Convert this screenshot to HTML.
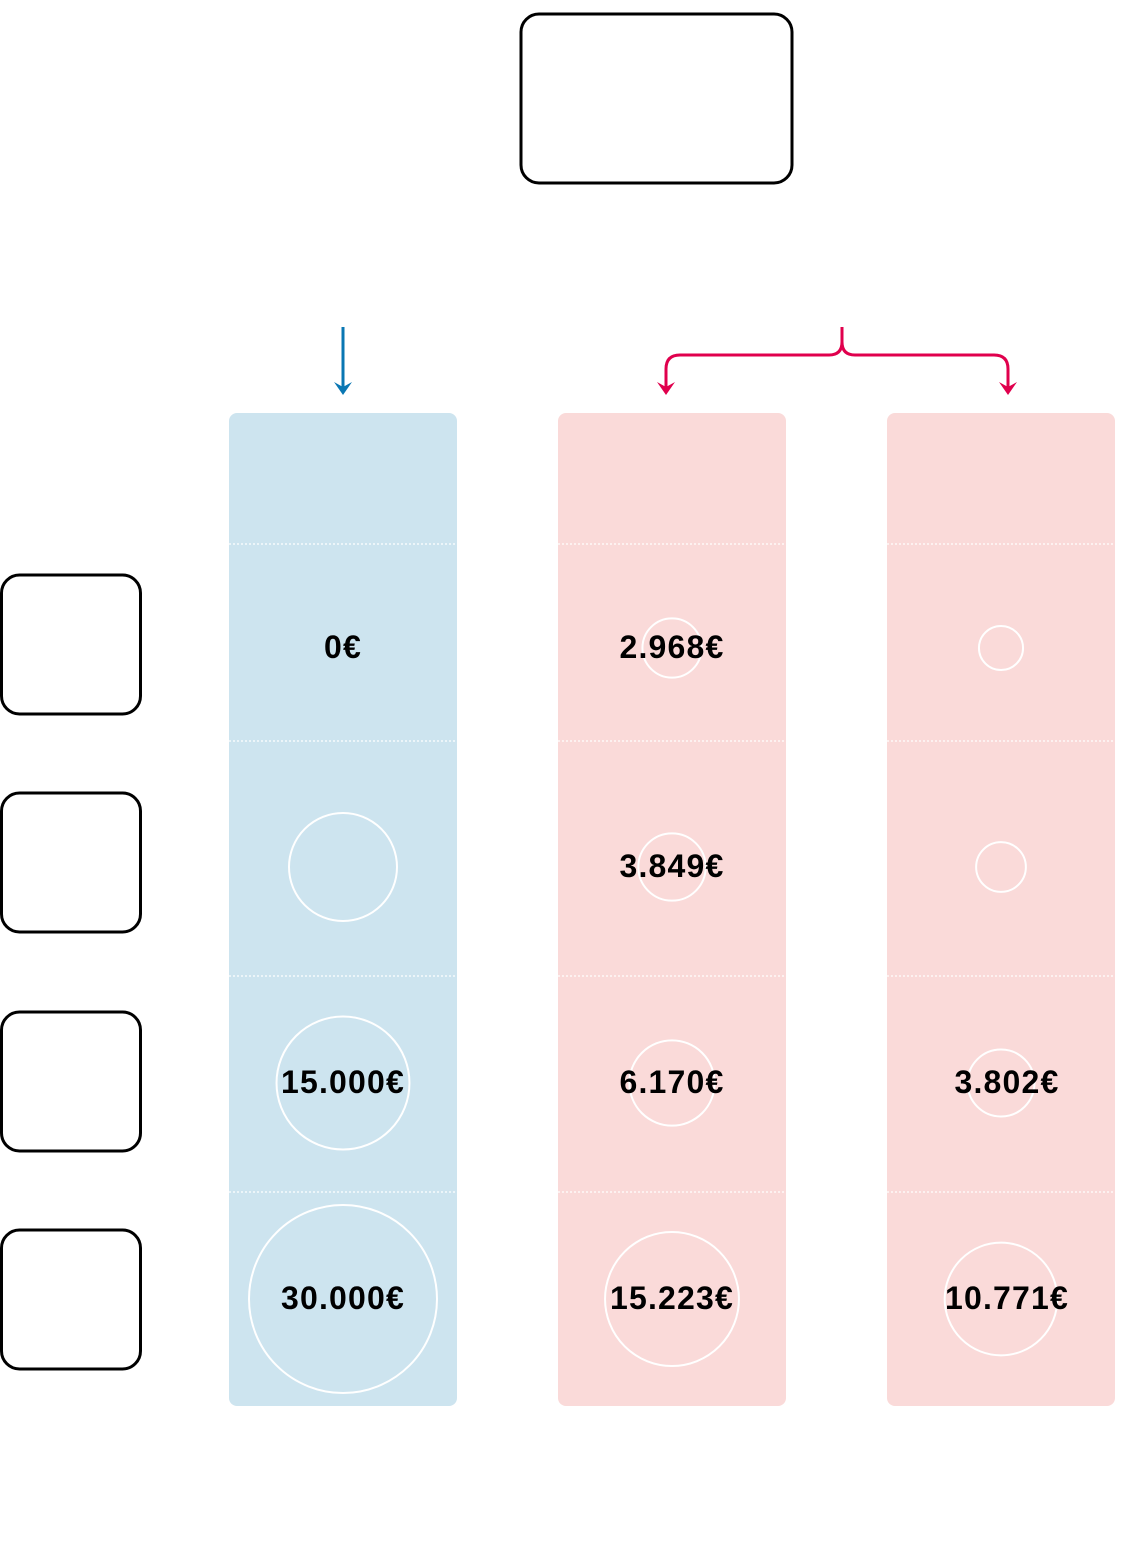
<!DOCTYPE html>
<html><head><meta charset="utf-8"><style>
body{margin:0;background:#fff;}
svg{display:block;font-family:"Liberation Sans",sans-serif;}
</style></head><body>
<svg id="chart" width="1132" height="1542">
<rect x="521" y="14" width="271" height="169" rx="18" fill="#fff" stroke="#000" stroke-width="3"/>
<g>
<line x1="343" y1="327" x2="343" y2="388" stroke="#0a77b3" stroke-width="3"/>
<path d="M334,382 L343,395 L352,382 L343,387 Z" fill="#0a77b3"/>
</g>
<g fill="none" stroke="#e0004d" stroke-width="3">
<path d="M842,327 V342 Q842,355 829,355 H680 Q666,355 666,369 V388"/>
<path d="M842,342 Q842,355 855,355 H994 Q1008,355 1008,369 V388"/>
</g>
<path d="M657,382 L666,395 L675,382 L666,387 Z M999,382 L1008,395 L1017,382 L1008,387 Z" fill="#e0004d"/>
<g id="cols"></g>
<g id="rowboxes"></g>
</svg>
<script>
const columns = ["blue", "red1", "red2"];
const rowNames = ["row-1", "row-2", "row-3", "row-4"];
const blueValues = [0, 9900, 15000, 30000];
const red1Values = [2968, 3849, 6170, 15223];
const red2Values = [1650, 2100, 3802, 10771];
const blueLabels = ["0€", "", "15.000€", "30.000€"];
const red1Labels = ["2.968€", "3.849€", "6.170€", "15.223€"];
const red2Labels = ["", "", "3.802€", "10.771€"];

const NS = "http://www.w3.org/2000/svg";
const colX = [229, 558, 887], colW = 228, colTop = 413, colBottom = 1406;
const seps = [544, 741, 976, 1192];
const rowCY = [648, 867, 1083, 1299];
const fills = ["#cde4ef", "#fadad9", "#fadad9"];
const allVals = [blueValues, red1Values, red2Values];
const allLabels = [blueLabels, red1Labels, red2Labels];
const labelDX = [0, 0, 6];
const rScale = v => Math.sqrt(v / 30000) * 94;
const colsG = document.getElementById("cols");
function mk(tag, attrs, parent){const e=document.createElementNS(NS,tag);for(const k in attrs)e.setAttribute(k,attrs[k]);parent.appendChild(e);return e;}
columns.forEach((c, ci) => {
  const cx = colX[ci] + colW/2;
  const r = mk("rect", {x:colX[ci], y:colTop, width:colW, height:colBottom-colTop, rx:8, fill:fills[ci]}, colsG);
  
  
  seps.forEach(y => {
    const l = mk("line", {x1:colX[ci], x2:colX[ci]+colW, y1:y, y2:y, stroke:"#fff", "stroke-width":1.2, "stroke-dasharray":"2,2"}, colsG);
    
    
  });
  allVals[ci].forEach((v, ri) => {
    if (v > 0) {
      const ci2 = mk("circle", {cx:cx, cy:rowCY[ri], r:rScale(v), fill:"none", stroke:"#fff", "stroke-width":2}, colsG);
      
      
    }
    const lab = allLabels[ci][ri];
    if (lab) {
      const t = mk("text", {x:cx + labelDX[ci], y:rowCY[ri] + 10, "text-anchor":"middle", "font-size":32, "font-weight":"bold", "letter-spacing":"1.2", fill:"#000"}, colsG);
      t.textContent = lab;
      
      
    }
  });
});
const rb = document.getElementById("rowboxes");
[575, 793, 1012, 1230].forEach((y, i) => {
  const b = mk("rect", {x:1.5, y:y, width:139, height:139, rx:18, fill:"#fff", stroke:"#000", "stroke-width":3}, rb);
  
  
});
</script>
</body></html>
